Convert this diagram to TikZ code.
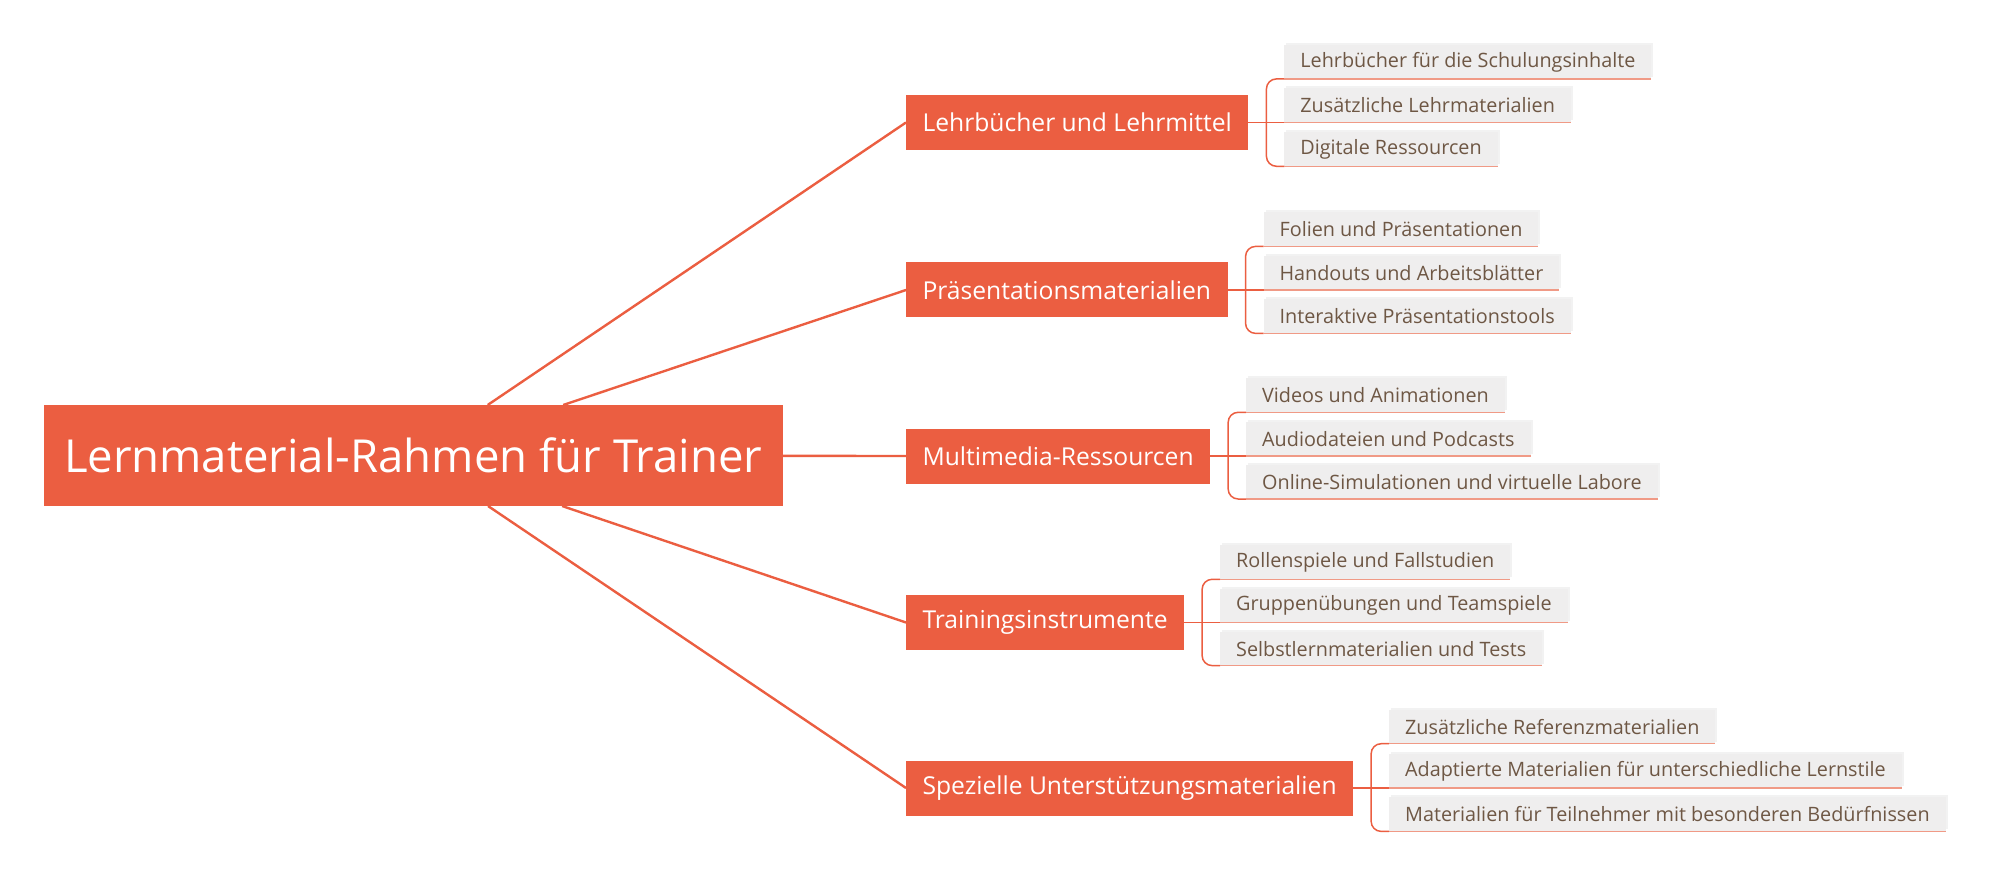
\documentclass[tikz,border=0pt]{standalone}
\usepackage{fontspec}
\setmainfont{Open Sans}
\usepackage{xcolor}
\usetikzlibrary{shadows}

\definecolor{mmorange}{HTML}{EB5E41}
\definecolor{mmleaf}{HTML}{EFEEEE}
\definecolor{mmtext}{HTML}{6E5744}
\definecolor{mmuline}{HTML}{F09A86}

\begin{document}
\begin{tikzpicture}[
    x=1pt, y=1pt, yscale=-1, xscale=1,
    every node/.style={inner sep=0pt, outer sep=0pt},
    rootbox/.style={fill=mmorange, text=white, minimum height=101pt, inner xsep=20pt,
        font=\fontsize{45.5}{50}\selectfont},
    topic/.style={fill=mmorange, text=white, minimum height=55pt, inner xsep=16.5pt,
        font=\fontsize{24.65}{28}\selectfont},
    leaf/.style={fill=mmleaf, text=mmtext, minimum height=34pt, inner xsep=16pt,
        font=\fontsize{19.8}{22}\selectfont,
        drop shadow={shadow xshift=2pt, shadow yshift=2pt, opacity=0.10}},
    trunk/.style={draw=mmorange, line width=2.4pt},
    twig/.style={draw=mmorange, line width=1.5pt, rounded corners=10pt},
    uline/.style={draw=mmuline, line width=1.5pt}
]
\useasboundingbox (0,0) rectangle (1989,893);

%==================== Root ====================
\node[rootbox, anchor=west] (root) at (44,455.5) {Lernmaterial-Rahmen für Trainer};

%==================== Main topics ====================
\node[topic, anchor=west] (n1) at (906,122.5) {Lehrbücher und Lehrmittel};
\node[topic, anchor=west] (n2) at (906,290)   {Präsentationsmaterialien};
\node[topic, anchor=west] (n3) at (906,456)   {Multimedia-Ressourcen};
\node[topic, anchor=west] (n4) at (906,622.5) {Trainingsinstrumente};
\node[topic, anchor=west] (n5) at (906,788)   {Spezielle Unterstützungsmaterialien};

\foreach \i in {1,...,5}
    \draw[trunk] (root) -- (n\i.west);

% bracket points
\foreach \i in {1,...,5}
    \coordinate (b\i) at ([xshift=18pt]n\i.east);

%==================== Leaves 1 ====================
\node[leaf, anchor=south west] (l12) at ([xshift=18pt]b1) {Zusätzliche Lehrmaterialien};
\node[leaf, anchor=south west] (l11) at ([yshift=-43.6pt]l12.south west) {Lehrbücher für die Schulungsinhalte};
\node[leaf, anchor=south west] (l13) at ([yshift=43.8pt]l12.south west) {Digitale Ressourcen};

%==================== Leaves 2 ====================
\node[leaf, anchor=south west] (l22) at ([xshift=18pt]b2) {Handouts und Arbeitsblätter};
\node[leaf, anchor=south west] (l21) at ([yshift=-43.6pt]l22.south west) {Folien und Präsentationen};
\node[leaf, anchor=south west] (l23) at ([yshift=43.4pt]l22.south west) {Interaktive Präsentationstools};

%==================== Leaves 3 ====================
\node[leaf, anchor=south west] (l32) at ([xshift=18pt]b3) {Audiodateien und Podcasts};
\node[leaf, anchor=south west] (l31) at ([yshift=-43.7pt]l32.south west) {Videos und Animationen};
\node[leaf, anchor=south west] (l33) at ([yshift=43pt]l32.south west) {Online-Simulationen und virtuelle Labore};

%==================== Leaves 4 ====================
\node[leaf, anchor=south west] (l42) at ([xshift=18pt]b4) {Gruppenübungen und Teamspiele};
\node[leaf, anchor=south west] (l41) at ([yshift=-43.2pt]l42.south west) {Rollenspiele und Fallstudien};
\node[leaf, anchor=south west] (l43) at ([yshift=43.1pt]l42.south west) {Selbstlernmaterialien und Tests};

%==================== Leaves 5 ====================
\node[leaf, anchor=south west] (l52) at ([xshift=18pt]b5) {Adaptierte Materialien für unterschiedliche Lernstile};
\node[leaf, anchor=south west] (l51) at ([yshift=-44.3pt]l52.south west) {Zusätzliche Referenzmaterialien};
\node[leaf, anchor=south west] (l53) at ([yshift=43.4pt]l52.south west) {Materialien für Teilnehmer mit besonderen Bedürfnissen};

%==================== Brackets and underlines ====================
\foreach \i in {1,...,5} {
    \draw[twig] (n\i.east) -- (l\i2.south west);
    \draw[twig] (b\i) |- (l\i1.south west);
    \draw[twig] (b\i) |- (l\i3.south west);
    \foreach \j in {1,2,3}
        \draw[uline] (l\i\j.south west) -- (l\i\j.south east);
}

\end{tikzpicture}
\end{document}
